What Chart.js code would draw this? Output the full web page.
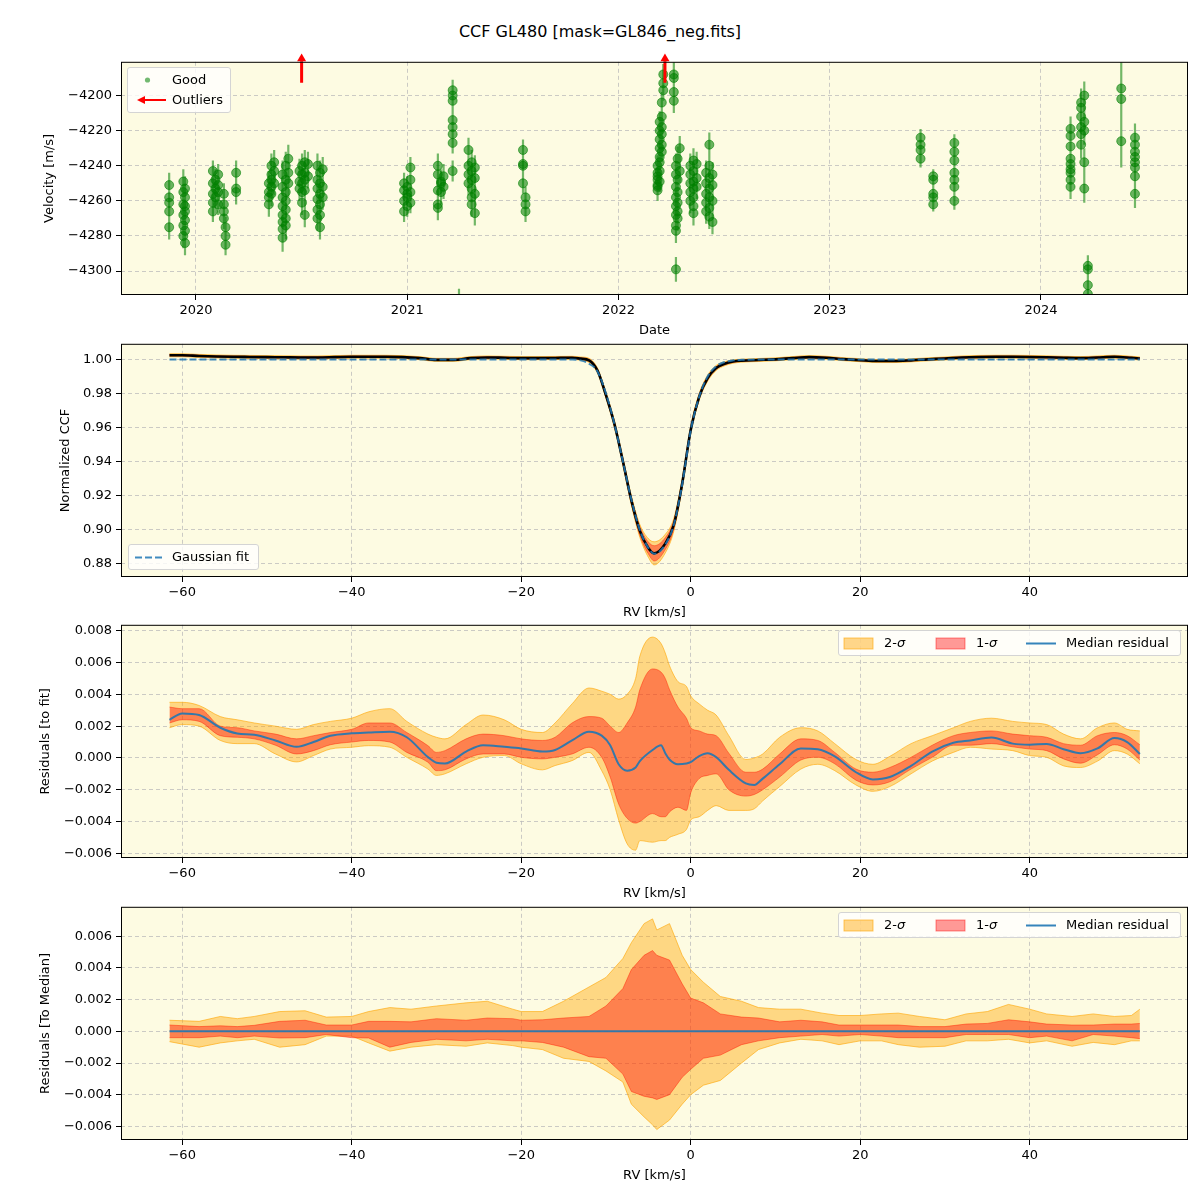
<!DOCTYPE html>
<html>
<head>
<meta charset="utf-8">
<script src="https://cdn.jsdelivr.net/npm/chart.js@4.4.1/dist/chart.umd.min.js"></script>
<style>
body { margin: 0; background: #fff; font-family: 'DejaVu Sans', sans-serif; }
#wrap { position: relative; width: 1200px; height: 1200px; overflow: hidden; }
canvas { position: absolute; left: 0; }
.ttl { position: absolute; left: 0; width: 1200px; top: 21px; text-align: center; font-size: 16px; line-height: 22px; }
.lg { position: absolute; background: rgba(255,255,255,0.8); border: 1px solid #d4d4d4; border-radius: 3px; box-sizing: border-box; font-size: 13px; z-index: 5; }
.lg span { position: absolute; line-height: 16px; white-space: nowrap; }
.lg svg { position: absolute; left: 0; top: 0; }
</style>
</head>
<body>
<div id="wrap">
  <div class="ttl">CCF GL480 [mask=GL846_neg.fits]</div>
  <canvas id="c1" width="1200" height="290" style="top:50px"></canvas>
  <canvas id="c2" width="1200" height="290" style="top:332px"></canvas>
  <canvas id="c3" width="1200" height="290" style="top:613px"></canvas>
  <canvas id="c4" width="1200" height="290" style="top:895px"></canvas>

  <div class="lg" style="left:127px;top:67px;width:104px;height:46px">
    <svg width="104" height="46">
      <circle cx="19.5" cy="12" r="2.6" fill="rgba(0,128,0,0.55)"/>
      <line x1="38" y1="32" x2="15" y2="32" stroke="red" stroke-width="2"/>
      <polygon points="9,32 17,28 17,36" fill="red"/>
    </svg>
    <span style="left:44px;top:4px">Good</span>
    <span style="left:44px;top:24px">Outliers</span>
  </div>

  <div class="lg" style="left:128px;top:544px;width:131px;height:26px">
    <svg width="131" height="26">
      <line x1="6" y1="12.5" x2="34" y2="12.5" stroke="rgba(31,119,180,0.85)" stroke-width="2" stroke-dasharray="7,3"/>
    </svg>
    <span style="left:43px;top:4px">Gaussian fit</span>
  </div>

  <div class="lg" style="left:838px;top:630px;width:343px;height:26px">
    <svg width="343" height="26">
      <rect x="5" y="7" width="29" height="11" fill="rgba(255,165,0,0.45)" stroke="rgba(255,165,0,0.6)"/>
      <rect x="97" y="7" width="29" height="11" fill="rgba(255,0,0,0.4)" stroke="rgba(255,0,0,0.45)"/>
      <line x1="187" y1="12.5" x2="217" y2="12.5" stroke="rgba(31,119,180,0.9)" stroke-width="2"/>
    </svg>
    <span style="left:45px;top:4px">2-<i>σ</i></span>
    <span style="left:137px;top:4px">1-<i>σ</i></span>
    <span style="left:227px;top:4px">Median residual</span>
  </div>

  <div class="lg" style="left:838px;top:912px;width:343px;height:26px">
    <svg width="343" height="26">
      <rect x="5" y="7" width="29" height="11" fill="rgba(255,165,0,0.45)" stroke="rgba(255,165,0,0.6)"/>
      <rect x="97" y="7" width="29" height="11" fill="rgba(255,0,0,0.4)" stroke="rgba(255,0,0,0.45)"/>
      <line x1="187" y1="12.5" x2="217" y2="12.5" stroke="rgba(31,119,180,0.9)" stroke-width="2"/>
    </svg>
    <span style="left:45px;top:4px">2-<i>σ</i></span>
    <span style="left:137px;top:4px">1-<i>σ</i></span>
    <span style="left:227px;top:4px">Median residual</span>
  </div>
</div>

<script>
// ---------- panel 1 : RV time series ----------
const obsEpoch = [2019.873, 2019.940, 2019.948, 2020.080, 2020.092, 2020.105, 2020.132, 2020.140, 2020.190,
  2020.345, 2020.357, 2020.370, 2020.410, 2020.425, 2020.437, 2020.490, 2020.502, 2020.515, 2020.530,
  2020.575, 2020.587, 2020.600, 2020.985, 2021.000, 2021.015, 2021.145, 2021.160, 2021.172, 2021.215,
  2021.245, 2021.290, 2021.305, 2021.320, 2021.548, 2021.560, 2022.185, 2022.195, 2022.205, 2022.212,
  2022.262, 2022.272, 2022.280, 2022.290, 2022.340, 2022.355, 2022.370, 2022.415, 2022.430, 2022.445,
  2023.430, 2023.490, 2023.590, 2024.140, 2024.190, 2024.205, 2024.222, 2024.380, 2024.445];
const obsVel = [
  [-4251, -4258, -4261, -4266, -4275],
  [-4249, -4255, -4262, -4268, -4274, -4280],
  [-4253, -4258, -4263, -4266, -4271, -4277, -4284],
  [-4243, -4250, -4256, -4261, -4266],
  [-4248, -4253, -4258],
  [-4245, -4251, -4255, -4262],
  [-4256, -4262, -4266, -4270],
  [-4275, -4280, -4285],
  [-4244, -4253, -4255],
  [-4250, -4255, -4258, -4262],
  [-4240, -4245, -4248, -4252, -4256],
  [-4238, -4243, -4250],
  [-4245, -4252, -4258, -4263, -4268, -4272, -4276, -4281],
  [-4240, -4248, -4255, -4260, -4265, -4270, -4274],
  [-4236, -4244, -4250],
  [-4243, -4249, -4253],
  [-4240, -4245, -4250, -4255, -4261],
  [-4238, -4244, -4248, -4254, -4268],
  [-4239, -4246],
  [-4240, -4248, -4253, -4259, -4265, -4270],
  [-4244, -4250, -4256, -4262, -4268, -4275],
  [-4242, -4252, -4258],
  [-4250, -4254, -4260, -4266],
  [-4252, -4256, -4258, -4263],
  [-4241, -4248, -4255, -4261],
  [-4240, -4245, -4254, -4262, -4264],
  [-4249, -4255, -4250],
  [-4246, -4252],
  [-4197, -4200, -4203, -4214, -4218, -4222, -4227, -4243],
  [-4318],
  [-4231, -4240, -4245, -4250],
  [-4238, -4243, -4248, -4253, -4258, -4262],
  [-4241, -4247, -4256, -4267],
  [-4231, -4239, -4240, -4250],
  [-4258, -4262, -4266],
  [-4240, -4244, -4248, -4251, -4254, -4252, -4246],
  [-4215, -4220, -4225, -4230, -4235, -4238, -4243, -4249],
  [-4204, -4212, -4218, -4222, -4228, -4232],
  [-4188, -4193, -4197],
  [-4188, -4190, -4198, -4203],
  [-4240, -4245, -4252, -4258, -4263, -4268, -4274, -4277, -4299],
  [-4236, -4248, -4255, -4261, -4266, -4270],
  [-4230, -4243],
  [-4240, -4245, -4250, -4255, -4260],
  [-4237, -4243, -4249, -4253, -4258, -4263, -4267],
  [-4239, -4247, -4252],
  [-4244, -4250, -4256, -4261, -4266],
  [-4228, -4240, -4247, -4253, -4258, -4264, -4269],
  [-4245, -4251, -4260, -4272],
  [-4224, -4228, -4231, -4236],
  [-4246, -4248, -4256, -4258, -4262],
  [-4227, -4232, -4237, -4244, -4248, -4252, -4260],
  [-4219, -4223, -4229, -4236, -4239, -4242, -4244, -4248, -4252],
  [-4204, -4207, -4212, -4218, -4222, -4228],
  [-4200, -4215, -4220, -4238, -4253],
  [-4297, -4299, -4308, -4313],
  [-4196, -4202, -4226],
  [-4224, -4228, -4232, -4235, -4238, -4241, -4246, -4256]
];
const obsErr = [7, 7, 7, 6, 6, 6, 6, 6, 7, 7, 7, 7, 8, 8, 8, 7, 7, 7, 7, 7, 7, 7, 6, 6, 6, 7, 7, 7, 6,
  8, 7, 7, 7, 6, 6, 6, 6, 6, 6, 7, 7, 7, 7, 7, 7, 7, 7, 7, 7, 5, 4, 5, 7, 8, 8, 6, 15, 8];
const outlierEpoch = [2020.5, 2022.22];
const yearTicks = [2020, 2021, 2022, 2023, 2024];
const velTicks = [-4300, -4280, -4260, -4240, -4220, -4200];

// ---------- shared RV axis ----------
const rvTicks = [-60, -40, -20, 0, 20, 40];

// ---------- panel 2 : CCF ----------
const ccfTicks = [0.88, 0.90, 0.92, 0.94, 0.96, 0.98, 1.00];
const ccfRv = [-61.5, -60, -58, -56, -54, -52, -50, -48, -46, -44, -42, -40, -38, -36, -34, -32, -30, -28, -26, -24,
  -22, -20, -18, -16, -14, -13, -12, -11, -10, -9, -8, -7, -6, -5, -4.3, -3, -2, -1, 0, 1,
  2, 3, 4, 5, 6, 8, 10, 12, 14, 16, 18, 20, 22, 24, 26, 28, 30, 32, 34, 36, 38, 40, 42, 44, 46, 48, 50, 52, 53];
const ccfMedian = [1.0025, 1.0025, 1.0021, 1.0018, 1.0016, 1.0015, 1.0014, 1.0013, 1.0012, 1.0012,
  1.0014, 1.0016, 1.0016, 1.0016, 1.0014, 1.0008, 0.9998, 0.9998, 1.0008, 1.0012,
  1.0010, 1.0008, 1.0008, 1.0009, 1.0010, 1.0005, 0.9995, 0.9935, 0.979, 0.962,
  0.940, 0.917, 0.899, 0.889, 0.8858, 0.8915, 0.9025, 0.927, 0.9585, 0.978,
  0.989, 0.995, 0.9975, 0.9988, 0.9993, 0.9997, 1.0001, 1.0008, 1.0014, 1.0010,
  1.0002, 0.9996, 0.9991, 0.9991, 0.9995, 1.0001, 1.0006, 1.0012, 1.0015, 1.0016,
  1.0016, 1.0015, 1.0013, 1.0010, 1.0008, 1.0012, 1.0016, 1.0010, 1.0006];
const gaussFit = [1, 1, 1, 1, 1, 1, 1, 1, 1, 1, 1, 1, 1, 1, 1, 1, 1, 1, 1, 1,
  1, 1, 1, 1, 1, 0.9995, 0.9975, 0.993, 0.980, 0.962,
  0.940, 0.9175, 0.8995, 0.889, 0.8855, 0.891, 0.9025, 0.9265, 0.958, 0.978,
  0.990, 0.996, 0.9985, 0.9995, 0.9998, 1, 1, 1, 1, 1, 1, 1, 1, 1, 1, 1, 1, 1, 1, 1,
  1, 1, 1, 1, 1, 1, 1, 1, 1];
const ccfSig1 = [0.0004, 0.0004, 0.0004, 0.0004, 0.0004, 0.0004, 0.0004, 0.0004, 0.0004, 0.0004,
  0.0004, 0.0004, 0.0004, 0.0004, 0.0004, 0.0004, 0.0004, 0.0004, 0.0004, 0.0004,
  0.0004, 0.0004, 0.0004, 0.0004, 0.0004, 0.0005, 0.0006, 0.0008, 0.001, 0.0012,
  0.0014, 0.0018, 0.0025, 0.0035, 0.0045, 0.0035, 0.0025, 0.0018, 0.0014, 0.0012,
  0.001, 0.0008, 0.0006, 0.0005, 0.0004, 0.0004, 0.0004, 0.0004, 0.0004, 0.0004,
  0.0004, 0.0004, 0.0004, 0.0004, 0.0004, 0.0004, 0.0004, 0.0004, 0.0004, 0.0004,
  0.0004, 0.0004, 0.0004, 0.0004, 0.0004, 0.0004, 0.0004, 0.0004, 0.0004];
const ccfSig2 = [0.0009, 0.0009, 0.0009, 0.0009, 0.0009, 0.0009, 0.0009, 0.0009, 0.0009, 0.0009,
  0.0009, 0.0009, 0.0009, 0.0009, 0.0009, 0.0009, 0.0009, 0.0009, 0.0009, 0.0009,
  0.0009, 0.0009, 0.0009, 0.0009, 0.0009, 0.001, 0.0012, 0.0015, 0.0018, 0.002,
  0.0022, 0.0028, 0.0038, 0.0055, 0.0068, 0.0055, 0.0038, 0.0028, 0.0022, 0.002,
  0.0018, 0.0015, 0.0012, 0.001, 0.0009, 0.0009, 0.0009, 0.0009, 0.0009, 0.0009,
  0.0009, 0.0009, 0.0009, 0.0009, 0.0009, 0.0009, 0.0009, 0.0009, 0.0009, 0.0009,
  0.0009, 0.0009, 0.0009, 0.0009, 0.0009, 0.0009, 0.0009, 0.0009, 0.0009];

// ---------- panel 3 : residuals to fit ----------
const resTicks = [-0.006, -0.004, -0.002, 0, 0.002, 0.004, 0.006, 0.008];
const resRv = [-61.5, -60, -58, -55.5, -53.5, -51.5, -49, -46.5, -44.5, -42.5,
  -40, -38, -35.5, -33.5, -31, -30, -29, -26.5, -24.5, -22,
  -20, -17.5, -16, -14, -12, -10.5, -9.5, -8.5, -7.5, -6.5,
  -6, -4.5, -3.5, -3, -2.5, -1.5, -0.5, 0, 1, 2,
  3, 4.5, 6.5, 7.5, 8.5, 10.5, 13, 15, 17, 19.5,
  21.5, 23.5, 26, 28.5, 31, 33, 35.5, 38, 40, 42,
  44, 46, 48, 50, 51.5, 53];
const resMedian = [0.0024, 0.0028, 0.0027, 0.0019, 0.00154, 0.00146, 0.0011, 0.0007, 0.001, 0.0014,
  0.00155, 0.0016, 0.00165, 0.0013, 0.00005, -0.0003, -0.00035, 0.0004, 0.0008, 0.0007,
  0.0006, 0.0004, 0.0005, 0.0011, 0.00165, 0.0014, 0.0008, -0.0004, -0.0008, -0.0006,
  -0.0002, 0.0005, 0.0008, 0.0003, -0.0001, -0.0004, -0.00035, -0.00027, 0.00012, 0.0003,
  0.00005, -0.00075, -0.0016, -0.0017, -0.0013, -0.0004, 0.0006, 0.00055, 0.0001, -0.0009,
  -0.00135, -0.0012, -0.0005, 0.0004, 0.00095, 0.0011, 0.00128, 0.0009, 0.00083, 0.00088,
  0.00055, 0.0003, 0.0006, 0.00125, 0.001, 0.00025];
const res2Hi = [0.0035, 0.0035, 0.0033, 0.0026, 0.0024, 0.0022, 0.002, 0.0018, 0.0021, 0.0023,
  0.0025, 0.0029, 0.0031, 0.0023, 0.0015, 0.0013, 0.0012, 0.0021, 0.0027, 0.0024,
  0.0018, 0.0016, 0.0022, 0.0034, 0.0044, 0.0042, 0.004, 0.0037, 0.004, 0.005,
  0.0064, 0.0076, 0.0072, 0.0066, 0.0058, 0.0048, 0.0045, 0.0039, 0.0034, 0.003,
  0.0027, 0.0014, -0.0001, 0.0000, 0.00025, 0.0013, 0.0019, 0.0017, 0.0009, -0.0001,
  -0.0004, 0.0001, 0.0009, 0.0014, 0.0019, 0.0023, 0.0025, 0.0023, 0.0022, 0.0021,
  0.0015, 0.0012, 0.0019, 0.0022, 0.0018, 0.0017];
const res2Lo = [0.0019, 0.0021, 0.002, 0.0011, 0.0009, 0.0009, 0.00025, -0.00025, 0.00015, 0.00056,
  0.00067, 0.00077, 0.00067, 0.00004, -0.0007, -0.0011, -0.001, -0.00037, 0.00004, 0.00015,
  -0.00037, -0.00075, -0.00048, -0.00017, 0.00035, -0.0008, -0.002, -0.0039, -0.0054, -0.0058,
  -0.0052, -0.0053, -0.0052, -0.0052, -0.005, -0.0048, -0.0045, -0.0039, -0.0037, -0.0033,
  -0.003, -0.0033, -0.0033, -0.0032, -0.0027, -0.0018, -0.0007, -0.0004, -0.0008, -0.0017,
  -0.0021, -0.0018, -0.001, -0.0002, 0.00035, 0.00067, 0.00056, 0.00046, 0.00015, 0.00004,
  -0.0005, -0.0006, -0.0002, 0.00046, 0.00025, -0.00037];
const res1Hi = [0.0032, 0.0031, 0.0031, 0.002, 0.0019, 0.0017, 0.0015, 0.0012, 0.0014, 0.0016,
  0.0018, 0.0022, 0.0022, 0.0016, 0.00077, 0.00035, 0.00046, 0.0012, 0.0015, 0.0014,
  0.0012, 0.0011, 0.0013, 0.0022, 0.0026, 0.0025, 0.002, 0.0016, 0.0022, 0.0032,
  0.0043, 0.0056, 0.0054, 0.005, 0.0043, 0.0032, 0.0025, 0.0019, 0.0017, 0.0015,
  0.0014, 0.0003, -0.0009, -0.0009, -0.0007, 0.00025, 0.0012, 0.0011, 0.00035, -0.0007,
  -0.0009, -0.0006, 0.00004, 0.0008, 0.0014, 0.0016, 0.0017, 0.0015, 0.0014, 0.0013,
  0.0009, 0.0008, 0.0014, 0.0016, 0.0014, 0.00083];
const res1Lo = [0.0022, 0.0024, 0.0023, 0.0014, 0.0013, 0.0012, 0.0008, 0.00025, 0.00046, 0.00083,
  0.001, 0.0011, 0.001, 0.00035, -0.00027, -0.0008, -0.00075, -0.00006, 0.00025, 0.00025,
  0.00004, -0.00006, 0.00004, 0.00025, 0.00067, 0.00004, -0.0012, -0.0029, -0.0038, -0.0041,
  -0.004, -0.0035, -0.0037, -0.0037, -0.0034, -0.0031, -0.0033, -0.0022, -0.0013, -0.0011,
  -0.001, -0.002, -0.0024, -0.0023, -0.002, -0.0012, -0.00013, 0.00004, -0.00037, -0.0014,
  -0.0017, -0.0015, -0.0007, 0.00004, 0.0008, 0.0008, 0.0009, 0.0007, 0.00056, 0.00046,
  -0.00006, -0.00033, 0.0002, 0.00083, 0.00056, -0.00013];

// ---------- panel 4 : residuals to median ----------
const medTicks = [-0.006, -0.004, -0.002, 0, 0.002, 0.004, 0.006];
const medRv = [-61.5, -58, -55.5, -53.5, -51.5, -48.5, -45.5, -43, -40, -38,
  -35.5, -33, -30, -26.5, -24, -21, -20, -17.5, -15, -12,
  -10, -8, -7, -5.5, -4.5, -4, -2.5, -1, 0, 1.5,
  3.5, 6, 8, 10.5, 13, 15.5, 17.5, 20, 22.5, 24.5,
  27, 30, 32.5, 35, 37.5, 40, 42, 45, 47.5, 50,
  52, 53];
const med2Hi = [0.0007, 0.00063, 0.00094, 0.0008, 0.00094, 0.00125, 0.0013, 0.0009, 0.00094, 0.00125,
  0.0015, 0.0014, 0.0016, 0.0018, 0.0019, 0.0014, 0.00125, 0.00125, 0.0019, 0.0028,
  0.0034, 0.0046, 0.0056, 0.0068, 0.0071, 0.0064, 0.0068, 0.0048, 0.0039, 0.0031,
  0.0022, 0.0019, 0.0015, 0.0014, 0.0014, 0.00115, 0.001, 0.001, 0.0011, 0.00115,
  0.00094, 0.00073, 0.0011, 0.00125, 0.0017, 0.0014, 0.0011, 0.00094, 0.0011, 0.00094,
  0.001, 0.0014];
const med2Lo = [-0.00065, -0.001, -0.00073, -0.0006, -0.0005, -0.001, -0.00084, -0.0003, -0.0003, -0.00073,
  -0.00125, -0.001, -0.00084, -0.00094, -0.00073, -0.0009, -0.001, -0.00115, -0.0017, -0.0019,
  -0.0025, -0.0032, -0.0046, -0.0054, -0.0059, -0.0062, -0.0056, -0.0046, -0.004, -0.0034,
  -0.0031, -0.002, -0.00115, -0.00073, -0.0005, -0.0006, -0.00084, -0.0006, -0.0006, -0.00084,
  -0.001, -0.00094, -0.0006, -0.0006, -0.0005, -0.00073, -0.0006, -0.00094, -0.0007, -0.00084,
  -0.0006, -0.0006];
const med1Hi = [0.0004, 0.0003, 0.00035, 0.0003, 0.00038, 0.00063, 0.0007, 0.0004, 0.0004, 0.00063,
  0.00063, 0.0006, 0.0008, 0.0007, 0.00084, 0.0008, 0.0007, 0.00073, 0.00084, 0.00094,
  0.0016, 0.0027, 0.0039, 0.0048, 0.0051, 0.0048, 0.0045, 0.003, 0.0021, 0.0018,
  0.0011, 0.0009, 0.00084, 0.0006, 0.0007, 0.0006, 0.0004, 0.0004, 0.0004, 0.0004,
  0.0003, 0.0003, 0.00046, 0.0005, 0.00073, 0.0006, 0.00046, 0.0004, 0.0004, 0.00046,
  0.00046, 0.0005];
const med1Lo = [-0.0004, -0.0004, -0.0003, -0.0004, -0.0003, -0.00042, -0.0004, -0.0002, -0.0004, -0.00042,
  -0.001, -0.0007, -0.0005, -0.0006, -0.0005, -0.0006, -0.0006, -0.0007, -0.001, -0.0016,
  -0.0017, -0.0027, -0.0038, -0.0041, -0.0042, -0.0043, -0.004, -0.0029, -0.0024, -0.0017,
  -0.0015, -0.00084, -0.0006, -0.0004, -0.0003, -0.0002, -0.0003, -0.0002, -0.0003, -0.0004,
  -0.0004, -0.0004, -0.0002, -0.0002, -0.0002, -0.0004, -0.0003, -0.0006, -0.0002, -0.0003,
  -0.0004, -0.00046];
const medLineRv = [-61.5, 53];
const medLine = [0, 0];

// ---------- styling ----------
Chart.defaults.font.family = "'DejaVu Sans', sans-serif";
Chart.defaults.font.size = 13;
Chart.defaults.color = '#000';

const BG = '#fdfbe2';
const GRID = 'rgba(185,185,185,0.75)';
const ORANGE_FILL = 'rgba(255,165,0,0.42)';
const ORANGE_EDGE = 'rgba(255,165,0,0.6)';
const RED_FILL = 'rgba(255,0,0,0.4)';
const RED_EDGE = 'rgba(255,30,0,0.45)';
const BLUE = 'rgba(31,119,180,0.9)';
const GREEN = 'rgba(0,128,0,0.58)';
const VEL_MIN = -4313.6, VEL_MAX = -4180.8;

const minus = s => s.replace('-', '\u2212');

const panelPlugin = {
  id: 'panel',
  beforeDraw(c) {
    const a = c.chartArea, ctx = c.ctx;
    ctx.save();
    ctx.fillStyle = BG;
    ctx.fillRect(a.left, a.top, a.right - a.left, a.bottom - a.top);
    ctx.restore();
  },
  afterDraw(c) {
    const a = c.chartArea, ctx = c.ctx;
    ctx.save();
    ctx.strokeStyle = '#000';
    ctx.lineWidth = 1;
    ctx.strokeRect(a.left + 0.5, a.top + 0.5, a.right - a.left - 1, a.bottom - a.top - 1);
    ctx.restore();
  }
};

function pts(xs, ys) {
  return xs.map((x, i) => ({ x: x, y: ys[i] }));
}

function gridOpts() {
  return { color: GRID, lineWidth: 1, drawTicks: true, tickColor: '#000', tickLength: 5, tickWidth: 1 };
}

// ticks are taken from the named tick arrays
function axisX(min, max, tickVals, label, fmt) {
  return {
    type: 'linear', bounds: 'data', min: min, max: max,
    afterFit: s => { s.height = 43; },
    afterBuildTicks: s => { s.ticks = tickVals.map(v => ({ value: v })); },
    ticks: { autoSkip: false, maxRotation: 0, padding: 3, callback: fmt },
    grid: gridOpts(),
    border: { display: false, dash: [4, 3] },
    title: { display: true, text: label, padding: { top: 0, bottom: 0 } }
  };
}

function axisY(min, max, tickVals, label, fmt, titlePad) {
  return {
    type: 'linear', bounds: 'data', min: min, max: max,
    afterFit: s => { s.width = 121; },
    afterBuildTicks: s => { s.ticks = tickVals.map(v => ({ value: v })); },
    ticks: { autoSkip: false, padding: 4, callback: fmt },
    grid: gridOpts(),
    border: { display: false, dash: [4, 3] },
    title: { display: true, text: label, padding: { top: titlePad, bottom: 0 } }
  };
}

function baseOptions(x, y) {
  return {
    responsive: false, animation: false, devicePixelRatio: 1, events: [],
    layout: { padding: { top: 10, right: 12, bottom: 2, left: 0 } },
    plugins: { legend: { display: false }, tooltip: { enabled: false } },
    elements: { point: { radius: 0 } },
    scales: { x: x, y: y }
  };
}

const rvFmt = v => minus(String(Math.round(v)));
const fix = d => v => minus((Math.abs(v) < 1e-9 ? 0 : v).toFixed(d));

function bandSets(rv, hi1, lo1, hi2, lo2, mode) {
  const t = mode === 'smooth' ? { cubicInterpolationMode: 'monotone' } : { tension: 0 };
  return [
    Object.assign({ data: pts(rv, hi1), fill: '+1', backgroundColor: RED_FILL, borderColor: RED_EDGE, borderWidth: 1 }, t),
    Object.assign({ data: pts(rv, lo1), fill: false, borderColor: RED_EDGE, borderWidth: 1 }, t),
    Object.assign({ data: pts(rv, hi2), fill: '+1', backgroundColor: ORANGE_FILL, borderColor: ORANGE_EDGE, borderWidth: 1 }, t),
    Object.assign({ data: pts(rv, lo2), fill: false, borderColor: ORANGE_EDGE, borderWidth: 1 }, t)
  ];
}

// ---------- chart 1 ----------
const goodPts = [], errPts = [];
obsEpoch.forEach((t, i) => {
  obsVel[i].forEach(v => {
    goodPts.push({ x: t, y: v });
    errPts.push({ x: t, y: v - obsErr[i] }, { x: t, y: v + obsErr[i] }, { x: t, y: null });
  });
});
const shaftPts = [], headPts = [];
outlierEpoch.forEach(t => {
  shaftPts.push({ x: t, y: VEL_MAX - 12 }, { x: t, y: VEL_MAX + 0.3 }, { x: t, y: null });
  headPts.push({ x: t, y: VEL_MAX + 1.8 });
});

new Chart(document.getElementById('c1'), {
  type: 'line',
  data: {
    datasets: [
      { data: headPts, showLine: false, pointStyle: 'triangle', pointRadius: 5.2, pointBackgroundColor: 'red', pointBorderColor: 'red', pointBorderWidth: 0, clip: false },
      { data: shaftPts, borderColor: 'red', borderWidth: 3, spanGaps: false, clip: false },
      { data: goodPts, showLine: false, pointRadius: 4.5, pointBackgroundColor: GREEN, pointBorderColor: GREEN, pointBorderWidth: 1 },
      { data: errPts, borderColor: 'rgba(0,128,0,0.55)', borderWidth: 2.2, spanGaps: false }
    ]
  },
  options: baseOptions(
    axisX(2019.645, 2024.696, yearTicks, 'Date', v => String(Math.round(v))),
    axisY(VEL_MIN, VEL_MAX, velTicks, 'Velocity [m/s]', v => minus(String(Math.round(v))), 42)
  ),
  plugins: [panelPlugin]
});

// ---------- chart 2 ----------
const ccf1Hi = ccfMedian.map((v, i) => v + ccfSig1[i]);
const ccf1Lo = ccfMedian.map((v, i) => v - ccfSig1[i]);
const ccf2Hi = ccfMedian.map((v, i) => v + ccfSig2[i]);
const ccf2Lo = ccfMedian.map((v, i) => v - ccfSig2[i]);

new Chart(document.getElementById('c2'), {
  type: 'line',
  data: {
    datasets: [
      { data: pts(ccfRv, gaussFit), borderColor: 'rgba(31,119,180,0.85)', borderWidth: 2, borderDash: [7, 3], cubicInterpolationMode: 'monotone' },
      { data: pts(ccfRv, ccfMedian), borderColor: '#000', borderWidth: 2.6, cubicInterpolationMode: 'monotone' }
    ].concat(bandSets(ccfRv, ccf1Hi, ccf1Lo, ccf2Hi, ccf2Lo, 'smooth'))
  },
  options: baseOptions(
    axisX(-67.22, 58.68, rvTicks, 'RV [km/s]', rvFmt),
    axisY(0.87186, 1.00925, ccfTicks, 'Normalized CCF', fix(2), 58)
  ),
  plugins: [panelPlugin]
});

// ---------- chart 3 ----------
new Chart(document.getElementById('c3'), {
  type: 'line',
  data: {
    datasets: [
      { data: pts(resRv, resMedian), borderColor: BLUE, borderWidth: 2, cubicInterpolationMode: 'monotone' }
    ].concat(bandSets(resRv, res1Hi, res1Lo, res2Hi, res2Lo, 'smooth'))
  },
  options: baseOptions(
    axisX(-67.22, 58.68, rvTicks, 'RV [km/s]', rvFmt),
    axisY(-0.006294, 0.008375, resTicks, 'Residuals [to fit]', fix(3), 38)
  ),
  plugins: [panelPlugin]
});

// ---------- chart 4 ----------
new Chart(document.getElementById('c4'), {
  type: 'line',
  data: {
    datasets: [
      { data: pts(medLineRv, medLine), borderColor: BLUE, borderWidth: 2 }
    ].concat(bandSets(medRv, med1Hi, med1Lo, med2Hi, med2Lo, 'sharp'))
  },
  options: baseOptions(
    axisX(-67.22, 58.68, rvTicks, 'RV [km/s]', rvFmt),
    axisY(-0.006859, 0.007863, medTicks, 'Residuals [To Median]', fix(3), 38)
  ),
  plugins: [panelPlugin]
});
</script>
</body>
</html>
